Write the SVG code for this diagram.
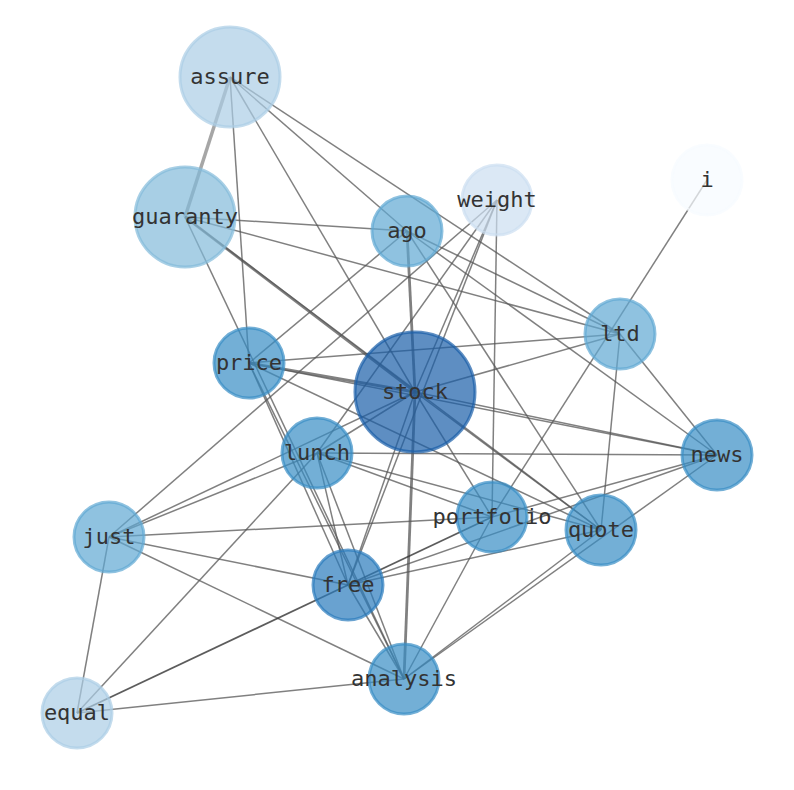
<svg xmlns="http://www.w3.org/2000/svg" width="794" height="790" viewBox="0 0 794 790">
<style>
.bg{fill:#ffffff}
.e{stroke:#555555;stroke-opacity:0.75;stroke-width:1.5;fill:none}
.t{stroke-width:2.8}
.d{stroke:#333333;stroke-opacity:0.8;stroke-width:1.8}
.n{stroke-width:3;fill-opacity:0.7;stroke-opacity:0.7}
.l{font-family:"DejaVu Sans Mono","Liberation Mono",monospace;font-size:22px;fill:#333333;text-anchor:middle}
</style>
<rect class="bg" x="0" y="0" width="794" height="790"/>
<g id="connectors">
<line class="e t" x1="230" y1="77" x2="185" y2="217" style="stroke:#888;stroke-width:3.5"/>
<line class="e" x1="230" y1="77" x2="249" y2="363"/>
<line class="e" x1="230" y1="77" x2="415" y2="392"/>
<line class="e" x1="230" y1="77" x2="407" y2="231"/>
<line class="e" x1="230" y1="77" x2="620" y2="334"/>
<line class="e" x1="185" y1="217" x2="407" y2="231"/>
<line class="e" x1="185" y1="217" x2="620" y2="334"/>
<line class="e t" x1="185" y1="217" x2="415" y2="392"/>
<line class="e" x1="185" y1="217" x2="601" y2="530"/>
<line class="e" x1="185" y1="217" x2="404" y2="679"/>
<line class="e t" x1="407" y1="231" x2="415" y2="392"/>
<line class="e" x1="407" y1="231" x2="620" y2="334"/>
<line class="e" x1="407" y1="231" x2="717" y2="455"/>
<line class="e" x1="407" y1="231" x2="601" y2="530"/>
<line class="e" x1="407" y1="231" x2="249" y2="363"/>
<line class="e" x1="497" y1="200" x2="109" y2="537"/>
<line class="e" x1="497" y1="200" x2="317" y2="453"/>
<line class="e" x1="497" y1="200" x2="415" y2="392"/>
<line class="e" x1="497" y1="200" x2="348" y2="585"/>
<line class="e" x1="497" y1="200" x2="492" y2="517"/>
<line class="e" x1="707" y1="180" x2="492" y2="517"/>
<line class="e" x1="620" y1="334" x2="249" y2="363"/>
<line class="e" x1="620" y1="334" x2="415" y2="392"/>
<line class="e" x1="620" y1="334" x2="601" y2="530"/>
<line class="e" x1="620" y1="334" x2="717" y2="455"/>
<line class="e t" x1="249" y1="363" x2="415" y2="392"/>
<line class="e" x1="249" y1="363" x2="717" y2="455"/>
<line class="e" x1="249" y1="363" x2="601" y2="530"/>
<line class="e" x1="249" y1="363" x2="348" y2="585"/>
<line class="e" x1="249" y1="363" x2="404" y2="679"/>
<line class="e" x1="415" y1="392" x2="717" y2="455"/>
<line class="e" x1="415" y1="392" x2="317" y2="453"/>
<line class="e" x1="415" y1="392" x2="109" y2="537"/>
<line class="e" x1="415" y1="392" x2="492" y2="517"/>
<line class="e" x1="415" y1="392" x2="601" y2="530"/>
<line class="e" x1="415" y1="392" x2="348" y2="585"/>
<line class="e t" x1="415" y1="392" x2="404" y2="679"/>
<line class="e" x1="317" y1="453" x2="717" y2="455"/>
<line class="e" x1="317" y1="453" x2="601" y2="530"/>
<line class="e" x1="317" y1="453" x2="492" y2="517"/>
<line class="e" x1="317" y1="453" x2="109" y2="537"/>
<line class="e" x1="317" y1="453" x2="77" y2="713"/>
<line class="e" x1="317" y1="453" x2="348" y2="585"/>
<line class="e" x1="317" y1="453" x2="404" y2="679"/>
<line class="e" x1="109" y1="537" x2="492" y2="517"/>
<line class="e" x1="109" y1="537" x2="348" y2="585"/>
<line class="e" x1="109" y1="537" x2="404" y2="679"/>
<line class="e" x1="109" y1="537" x2="77" y2="713"/>
<line class="e d" x1="348" y1="585" x2="77" y2="713"/>
<line class="e d" x1="348" y1="585" x2="492" y2="517"/>
<line class="e" x1="348" y1="585" x2="601" y2="530"/>
<line class="e" x1="348" y1="585" x2="717" y2="455"/>
<line class="e" x1="348" y1="585" x2="404" y2="679"/>
<line class="e" x1="492" y1="517" x2="404" y2="679"/>
<line class="e" x1="601" y1="530" x2="404" y2="679"/>
<line class="e" x1="717" y1="455" x2="404" y2="679"/>
<line class="e" x1="77" y1="713" x2="404" y2="679"/>
<line class="e" x1="717" y1="455" x2="492" y2="517"/>
</g>
<g id="node-assure"><circle class="n" cx="230" cy="77" r="50" fill="#abcde5" stroke="#abcde5"/><text class="l" x="230" y="84">assure</text></g>
<g id="node-guaranty"><circle class="n" cx="185" cy="217" r="50" fill="#83bada" stroke="#83bada"/><text class="l" x="185" y="224">guaranty</text></g>
<g id="node-weight"><circle class="n" cx="497" cy="200" r="35" fill="#ccdef1" stroke="#ccdef1"/><text class="l" x="497" y="207">weight</text></g>
<g id="node-i"><circle class="n" cx="707" cy="180" r="35" fill="#f7fbff" stroke="#f7fbff"/><text class="l" x="707" y="187">i</text></g>
<g id="node-ago"><circle class="n" cx="407" cy="231" r="35" fill="#5fa8d3" stroke="#5fa8d3"/><text class="l" x="407" y="238">ago</text></g>
<g id="node-ltd"><circle class="n" cx="620" cy="334" r="35" fill="#5fa8d3" stroke="#5fa8d3"/><text class="l" x="620" y="341">ltd</text></g>
<g id="node-price"><circle class="n" cx="249" cy="363" r="35" fill="#378dc4" stroke="#378dc4"/><text class="l" x="249" y="370">price</text></g>
<g id="node-stock"><circle class="n" cx="415" cy="392" r="60" fill="#1a5ea8" stroke="#1a5ea8"/><text class="l" x="415" y="399">stock</text></g>
<g id="node-lunch"><circle class="n" cx="317" cy="453" r="35" fill="#378dc4" stroke="#378dc4"/><text class="l" x="317" y="460">lunch</text></g>
<g id="node-news"><circle class="n" cx="717" cy="455" r="35" fill="#378dc4" stroke="#378dc4"/><text class="l" x="717" y="462">news</text></g>
<g id="node-just"><circle class="n" cx="109" cy="537" r="35" fill="#5fa8d3" stroke="#5fa8d3"/><text class="l" x="109" y="544">just</text></g>
<g id="node-portfolio"><circle class="n" cx="492" cy="517" r="35" fill="#378dc4" stroke="#378dc4"/><text class="l" x="492" y="524">portfolio</text></g>
<g id="node-quote"><circle class="n" cx="601" cy="530" r="35" fill="#378dc4" stroke="#378dc4"/><text class="l" x="601" y="537">quote</text></g>
<g id="node-free"><circle class="n" cx="348" cy="585" r="35" fill="#2a7abc" stroke="#2a7abc"/><text class="l" x="348" y="592">free</text></g>
<g id="node-analysis"><circle class="n" cx="404" cy="679" r="35" fill="#378dc4" stroke="#378dc4"/><text class="l" x="404" y="686">analysis</text></g>
<g id="node-equal"><circle class="n" cx="77" cy="713" r="35" fill="#abcde5" stroke="#abcde5"/><text class="l" x="77" y="720">equal</text></g>
</svg>
